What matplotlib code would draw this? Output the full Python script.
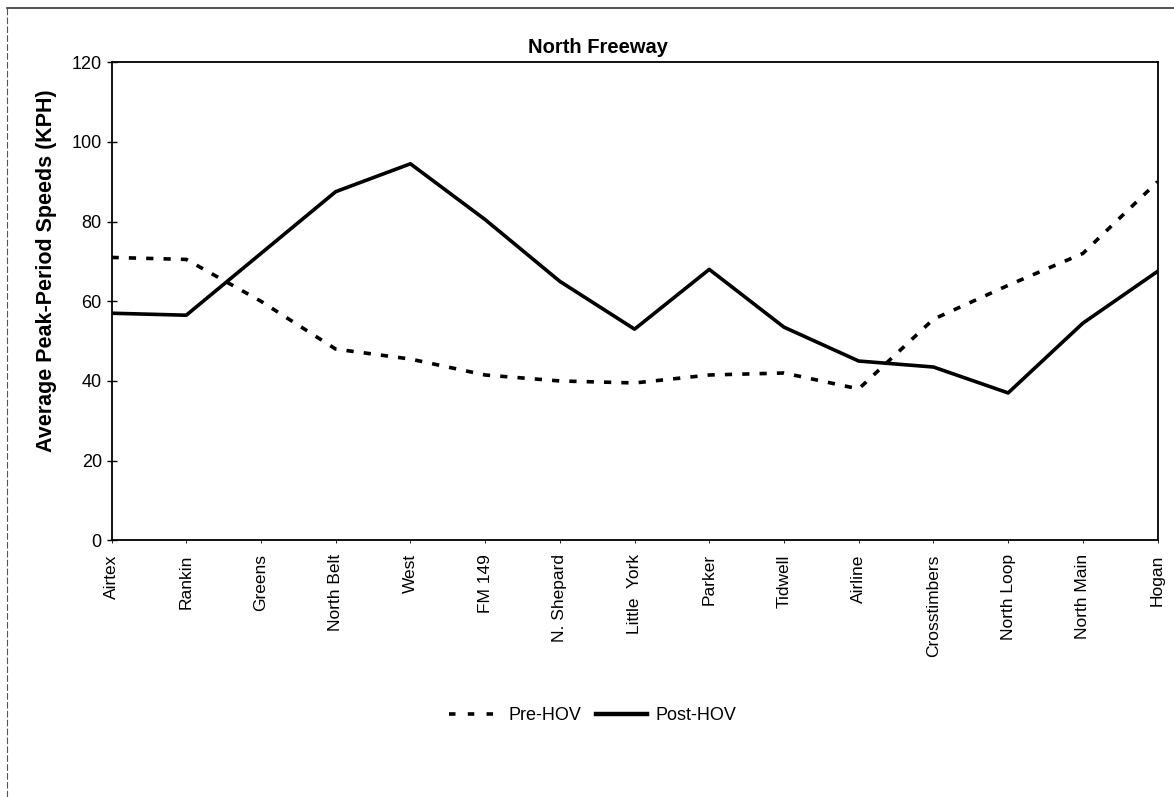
import matplotlib.pyplot as plt
from matplotlib.lines import Line2D

plt.rcParams['font.family'] = ['Liberation Sans', 'DejaVu Sans']

# freeway segments and average peak-period speeds (KPH)
segments = ['Airtex', 'Rankin', 'Greens', 'North Belt', 'West', 'FM 149',
            'N. Shepard', 'Little  York', 'Parker', 'Tidwell', 'Airline',
            'Crosstimbers', 'North Loop', 'North Main', 'Hogan']
pre_hov = [71, 70.5, 60, 48, 45.5, 41.5, 40, 39.5, 41.5, 42, 38, 55.5, 64, 72, 90]
post_hov = [57, 56.5, 72, 87.5, 94.5, 80.5, 65, 53, 68, 53.5, 45, 43.5, 37, 54.5, 67.5]

dots = (0, (2.0, 2.8))

fig = plt.figure(figsize=(11.74, 7.97), dpi=100)
ax = fig.add_axes([0.095, 0.322, 0.891, 0.600])

x = list(range(len(segments)))
ax.plot(x, pre_hov, color='black', lw=2.6, linestyle=dots,
        dash_capstyle='butt', label='Pre-HOV')
ax.plot(x, post_hov, color='black', lw=2.6, label='Post-HOV')

ax.set_xlim(0, len(segments) - 1)
ax.set_ylim(0, 120)
ax.set_yticks(range(0, 121, 20))
ax.set_xticks(x)
ax.set_xticklabels(segments, rotation=90, fontsize=12.5)
ax.tick_params(axis='y', direction='inout', length=7, width=1, labelsize=13)
ax.tick_params(axis='x', direction='out', length=2, width=0.6, pad=8)
for s in ax.spines.values():
    s.set_linewidth(1.3)

fig.text(0.509, 0.928, 'North Freeway', fontsize=14.5, fontweight='bold',
         ha='center', va='bottom')
ax.set_ylabel('Average Peak-Period Speeds (KPH)', fontsize=15.5,
              fontweight='bold')
ax.yaxis.set_label_coords(-0.052, 0.563)

handles = [Line2D([], [], color='black', lw=2.6, linestyle=(0, (1.8, 3.4))),
           Line2D([], [], color='black', lw=3.2)]
fig.legend(handles, ['Pre-HOV', 'Post-HOV'], loc='center',
           bbox_to_anchor=(0.505, 0.102), ncol=2, frameon=False,
           prop={'family': ['Liberation Sans Narrow', 'Liberation Sans'],
                 'size': 13},
           handlelength=2.8, handletextpad=0.5, columnspacing=0.8)

# scanned page border
fig.add_artist(Line2D([0.006, 0.006], [0.0, 0.99], color='#555555', lw=0.8,
                      linestyle=(0, (6, 2))))
fig.add_artist(Line2D([0.006, 1.0], [0.99, 0.99], color='#333333', lw=1.2))

fig.savefig('out.png', dpi=100)
